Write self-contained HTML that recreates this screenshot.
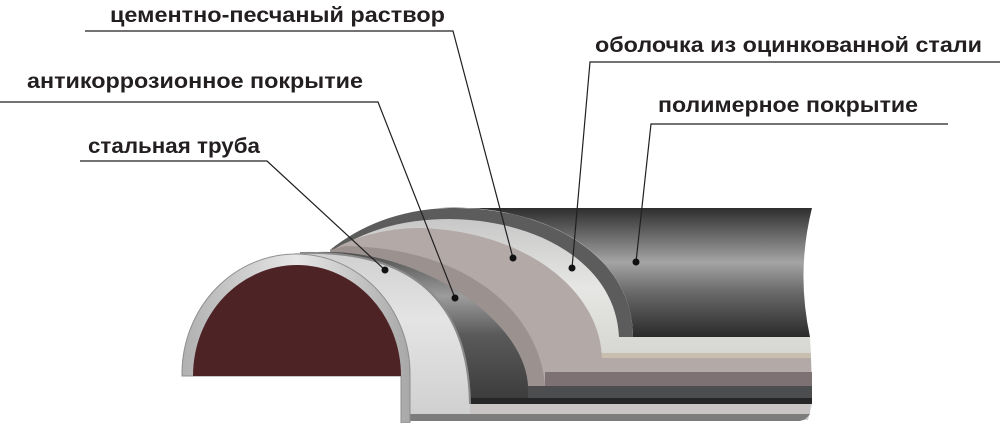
<!DOCTYPE html>
<html><head><meta charset="utf-8"><style>
html,body{margin:0;padding:0;background:#fff;}
svg{display:block}
text{font-family:"Liberation Sans",Arial,sans-serif;font-size:21px;font-weight:bold;fill:#231f20}
</style></head><body>
<svg width="1000" height="423" viewBox="0 0 1000 423" xmlns="http://www.w3.org/2000/svg">
<defs>
<linearGradient id="body" x1="0" y1="208" x2="0" y2="337" gradientUnits="userSpaceOnUse">
<stop offset="0" stop-color="#2e2e2e"/><stop offset="0.12" stop-color="#505050"/>
<stop offset="0.42" stop-color="#a4a4a4"/><stop offset="0.65" stop-color="#6a6a6a"/>
<stop offset="1" stop-color="#2a2a2a"/></linearGradient>
<linearGradient id="zinc" x1="0" y1="220" x2="0" y2="355" gradientUnits="userSpaceOnUse">
<stop offset="0" stop-color="#c8c8c8"/><stop offset="0.5" stop-color="#e6e6e4"/><stop offset="1" stop-color="#d6d6d2"/></linearGradient>
<linearGradient id="anti" x1="0" y1="250" x2="0" y2="404" gradientUnits="userSpaceOnUse">
<stop offset="0" stop-color="#4a4a4a"/><stop offset="0.3" stop-color="#9c9c9c"/>
<stop offset="0.55" stop-color="#5a5a5a"/><stop offset="1" stop-color="#3a3a3a"/></linearGradient>
<linearGradient id="steel" x1="0" y1="252" x2="0" y2="420" gradientUnits="userSpaceOnUse">
<stop offset="0" stop-color="#d0d0d0"/><stop offset="0.4" stop-color="#e4e4e4"/><stop offset="1" stop-color="#cfcfcf"/></linearGradient>
<linearGradient id="ring" x1="182" y1="0" x2="410" y2="0" gradientUnits="userSpaceOnUse">
<stop offset="0" stop-color="#b0b0b0"/><stop offset="0.5" stop-color="#e6e6e6"/><stop offset="1" stop-color="#a8a8a8"/></linearGradient>
</defs>

<!-- polymer body -->
<path d="M440,208 L812,208 Q796,272 810,337 L633,337 C633,255 545,203 440,208 Z" fill="url(#body)"/>
<!-- polymer rim -->
<path d="M330,250 C360,226 400,209 450,208 C545,206 633,255 633,337 L330,337 Z" fill="#5c5c5c"/>
<!-- zinc -->
<path d="M335,250 C368,229 405,219 450,219 C540,220 616,265 619,337 L810,337 L811,355 L335,355 Z" fill="url(#zinc)"/>
<rect x="600" y="353" width="211" height="5" fill="#c9bfae"/>
<!-- cement -->
<path d="M330,252 C352,236 390,228 420,228 C525,231 600,290 602,358 L811,358 L812,386 L401,386 L401,376 L330,376 Z" fill="#b3aaa7"/>
<rect x="545" y="372" width="267" height="14" fill="#7d7173"/>
<path d="M345,246 C470,248 540,315 545,386 L401,386 L401,376 L330,376 L330,250 Z" fill="#9b9290"/>
<!-- anticorrosion -->
<path d="M318,252 C420,248 525,320 528,386 L812,386 L812,404 L401,404 L401,376 L318,376 Z" fill="url(#anti)"/>
<rect x="528" y="386" width="284" height="12" fill="#4b4d4f"/>
<rect x="470" y="398" width="342" height="6" fill="#262626"/>
<!-- steel surface -->
<path d="M295,253 C400,250 468,290 470,404 L812,404 L808,420 L401,420 L401,376 L295,376 Z" fill="url(#steel)"/>
<path d="M300,253 C400,250 468,290 470,404" fill="none" stroke="#8a8a8a" stroke-width="2"/>
<rect x="470" y="404" width="340" height="10" fill="#c9c5c5"/>
<path d="M402,414 L810,414 Q806,420 800,421 L402,421 Z" fill="#7c7c7c"/>
<!-- front ring -->
<path d="M182,376 L182,372 A114 120 0 0 1 410,376 L410,423 L401,423 L401,376 Z" fill="url(#ring)" stroke="#8e8e8e" stroke-width="1"/>
<path d="M193,376 A104 111 0 0 1 401,376 Z" fill="#4e2326"/>

<!-- leader lines -->
<g stroke="#231f20" stroke-width="1.2" fill="none">
<polyline points="85,31 453,31 513,258"/>
<polyline points="0,102 378,102 455,298"/>
<polyline points="80,161 267,161 385,270"/>
<polyline points="1000,62 590,62 572,268"/>
<polyline points="948,124 651,124 636,262"/>
</g>
<g fill="#111">
<circle cx="513" cy="258" r="3.5"/><circle cx="455" cy="298" r="3.5"/>
<circle cx="385" cy="270" r="3.5"/><circle cx="572" cy="268" r="3.5"/>
<circle cx="636" cy="262" r="3.5"/>
</g>
<text x="110" y="22" textLength="335" lengthAdjust="spacingAndGlyphs">цементно-песчаный раствор</text>
<text x="27" y="88" textLength="336" lengthAdjust="spacingAndGlyphs">антикоррозионное покрытие</text>
<text x="88" y="153" textLength="172" lengthAdjust="spacingAndGlyphs">стальная труба</text>
<text x="595" y="52" textLength="387" lengthAdjust="spacingAndGlyphs">оболочка из оцинкованной стали</text>
<text x="658" y="112" textLength="260" lengthAdjust="spacingAndGlyphs">полимерное покрытие</text>
</svg>
</body></html>
